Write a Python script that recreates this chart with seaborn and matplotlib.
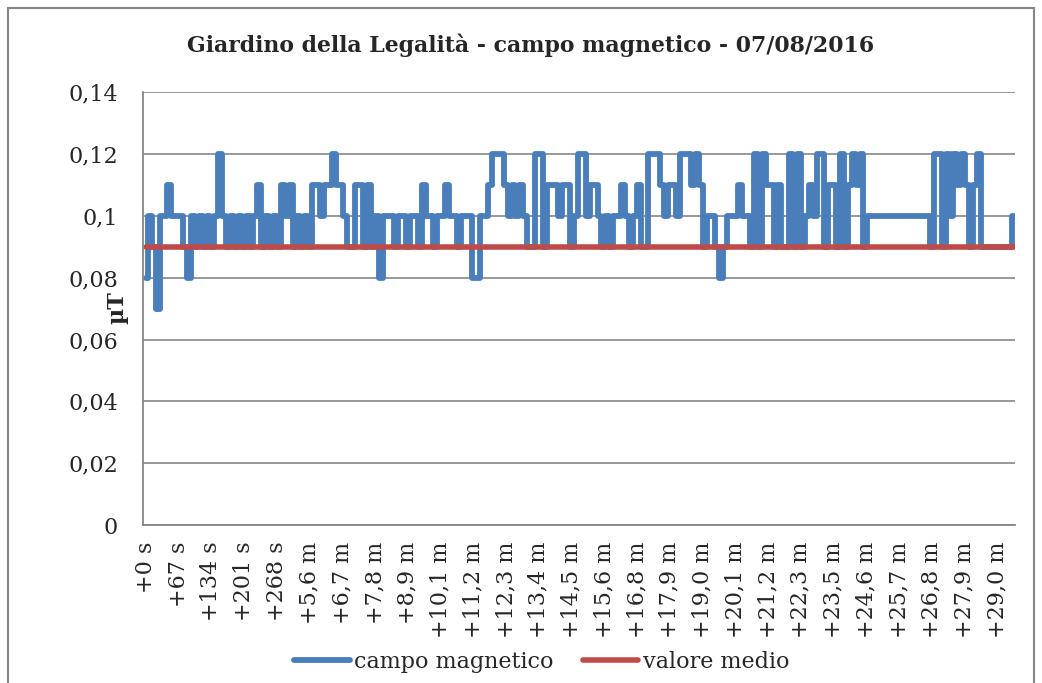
import numpy as np
import pandas as pd
import matplotlib
matplotlib.use('Agg')
import matplotlib.pyplot as plt
import seaborn as sns
from matplotlib.patches import Rectangle

# campo magnetico in uT, un valore ogni 8 s
campo = [
    0.08, 0.10, 0.09, 0.07, 0.10, 0.10, 0.11, 0.10, 0.10, 0.10,
    0.09, 0.08, 0.10, 0.09, 0.10, 0.09, 0.10, 0.09, 0.10, 0.12,
    0.10, 0.09, 0.10, 0.09, 0.10, 0.09, 0.10, 0.09, 0.10, 0.11,
    0.09, 0.10, 0.09, 0.10, 0.09, 0.11, 0.10, 0.11, 0.09, 0.10,
    0.09, 0.10, 0.09, 0.11, 0.11, 0.10, 0.11, 0.11, 0.12, 0.11,
    0.11, 0.10, 0.09, 0.09, 0.11, 0.11, 0.09, 0.11, 0.09, 0.10,
    0.08, 0.10, 0.10, 0.10, 0.09, 0.10, 0.10, 0.09, 0.10, 0.10,
    0.09, 0.11, 0.10, 0.10, 0.09, 0.10, 0.10, 0.11, 0.10, 0.10,
    0.09, 0.10, 0.10, 0.10, 0.08, 0.08, 0.10, 0.10, 0.11, 0.12,
    0.12, 0.12, 0.11, 0.10, 0.11, 0.10, 0.11, 0.10, 0.09, 0.09,
    0.12, 0.12, 0.09, 0.11, 0.11, 0.11, 0.10, 0.11, 0.11, 0.09,
    0.10, 0.12, 0.12, 0.10, 0.11, 0.11, 0.10, 0.09, 0.10, 0.09,
    0.10, 0.10, 0.11, 0.10, 0.09, 0.10, 0.11, 0.09, 0.09, 0.12,
    0.12, 0.12, 0.11, 0.10, 0.11, 0.11, 0.10, 0.12, 0.12, 0.12,
    0.11, 0.12, 0.11, 0.09, 0.10, 0.10, 0.09, 0.08, 0.09, 0.10,
    0.10, 0.10, 0.11, 0.10, 0.10, 0.09, 0.12, 0.09, 0.12, 0.11,
    0.11, 0.09, 0.11, 0.09, 0.09, 0.12, 0.09, 0.12, 0.09, 0.10,
    0.11, 0.10, 0.12, 0.12, 0.09, 0.11, 0.11, 0.09, 0.12, 0.09,
    0.11, 0.12, 0.11, 0.12, 0.09, 0.10, 0.10, 0.10, 0.10, 0.10,
    0.10, 0.10, 0.10, 0.10, 0.10, 0.10, 0.10, 0.10, 0.10, 0.10,
    0.10, 0.09, 0.12, 0.12, 0.09, 0.12, 0.10, 0.12, 0.11, 0.12,
    0.11, 0.09, 0.11, 0.12, 0.09, 0.09, 0.09, 0.09, 0.09, 0.09,
    0.09, 0.09, 0.10,
]
passo_s = 8
valore_medio = 0.09

etichette_x = ['+0 s', '+67 s', '+134 s', '+201 s', '+268 s', '+5,6 m', '+6,7 m',
               '+7,8 m', '+8,9 m', '+10,1 m', '+11,2 m', '+12,3 m', '+13,4 m',
               '+14,5 m', '+15,6 m', '+16,8 m', '+17,9 m', '+19,0 m', '+20,1 m',
               '+21,2 m', '+22,3 m', '+23,5 m', '+24,6 m', '+25,7 m', '+26,8 m',
               '+27,9 m', '+29,0 m']
passo_etichette_s = 67
y_ticks = [0, 0.02, 0.04, 0.06, 0.08, 0.10, 0.12, 0.14]
y_etichette = ['0', '0,02', '0,04', '0,06', '0,08', '0,1', '0,12', '0,14']

blu = '#4A7EBB'
rosso = '#BE4B48'
grigio = '#868686'

df = pd.DataFrame({'t': np.arange(len(campo)) * passo_s, 'campo': campo})
df['medio'] = valore_medio

sns.set_style('white')
plt.rcParams['font.family'] = ['DejaVu Serif']

fig = plt.figure(figsize=(10.42, 6.83), dpi=100)
ax = fig.add_axes([143 / 1042, 1 - 525 / 683, (1015 - 143) / 1042, (525 - 92) / 683])

sns.lineplot(data=df, x='t', y='campo', color=blu, lw=4.2, estimator=None,
             drawstyle='steps-mid', solid_joinstyle='round', solid_capstyle='round',
             label='campo magnetico', ax=ax)
sns.lineplot(data=df, x='t', y='medio', color=rosso, lw=4, estimator=None,
             solid_capstyle='round', label='valore medio', ax=ax)

ax.set_xlim(-6, 1778)
ax.set_ylim(0, 0.1401)
ax.set_xticks(np.arange(len(etichette_x)) * passo_etichette_s)
ax.set_xticklabels(etichette_x, rotation=90, fontsize=16)
ax.set_yticks(y_ticks)
ax.set_yticklabels(y_etichette, fontsize=16)
ax.tick_params(axis='x', length=0, pad=12)
ax.tick_params(axis='y', length=0, pad=18)
ax.set_xlabel('')
ax.set_ylabel('')
ax.yaxis.grid(True, color=grigio, lw=1.2)
ax.xaxis.grid(False)
for s in ['top', 'right']:
    ax.spines[s].set_visible(False)
for s in ['left', 'bottom']:
    ax.spines[s].set_color(grigio)
    ax.spines[s].set_linewidth(1.3)

ax.legend(loc='center', bbox_to_anchor=(0.52, 0.031), bbox_transform=fig.transFigure,
          ncol=2, frameon=False, fontsize=16, handlelength=2.5, handletextpad=0.2,
          columnspacing=1.3)

fig.text(0.509, 0.934, 'Giardino della Legalità - campo magnetico - 07/08/2016',
         ha='center', va='center', fontsize=15.8, fontweight='bold')
fig.text(117 / 1042, 1 - 308 / 683, 'µT', rotation=90, ha='center', va='center',
         fontsize=16, fontweight='bold')

# bordo dell'area del grafico
fig.add_artist(Rectangle((8 / 1042, -0.05), (1034 - 8) / 1042, 1.05 - 8 / 683,
                         transform=fig.transFigure, fill=False, edgecolor=grigio, lw=1.5))

fig.savefig('out.png', dpi=100)
